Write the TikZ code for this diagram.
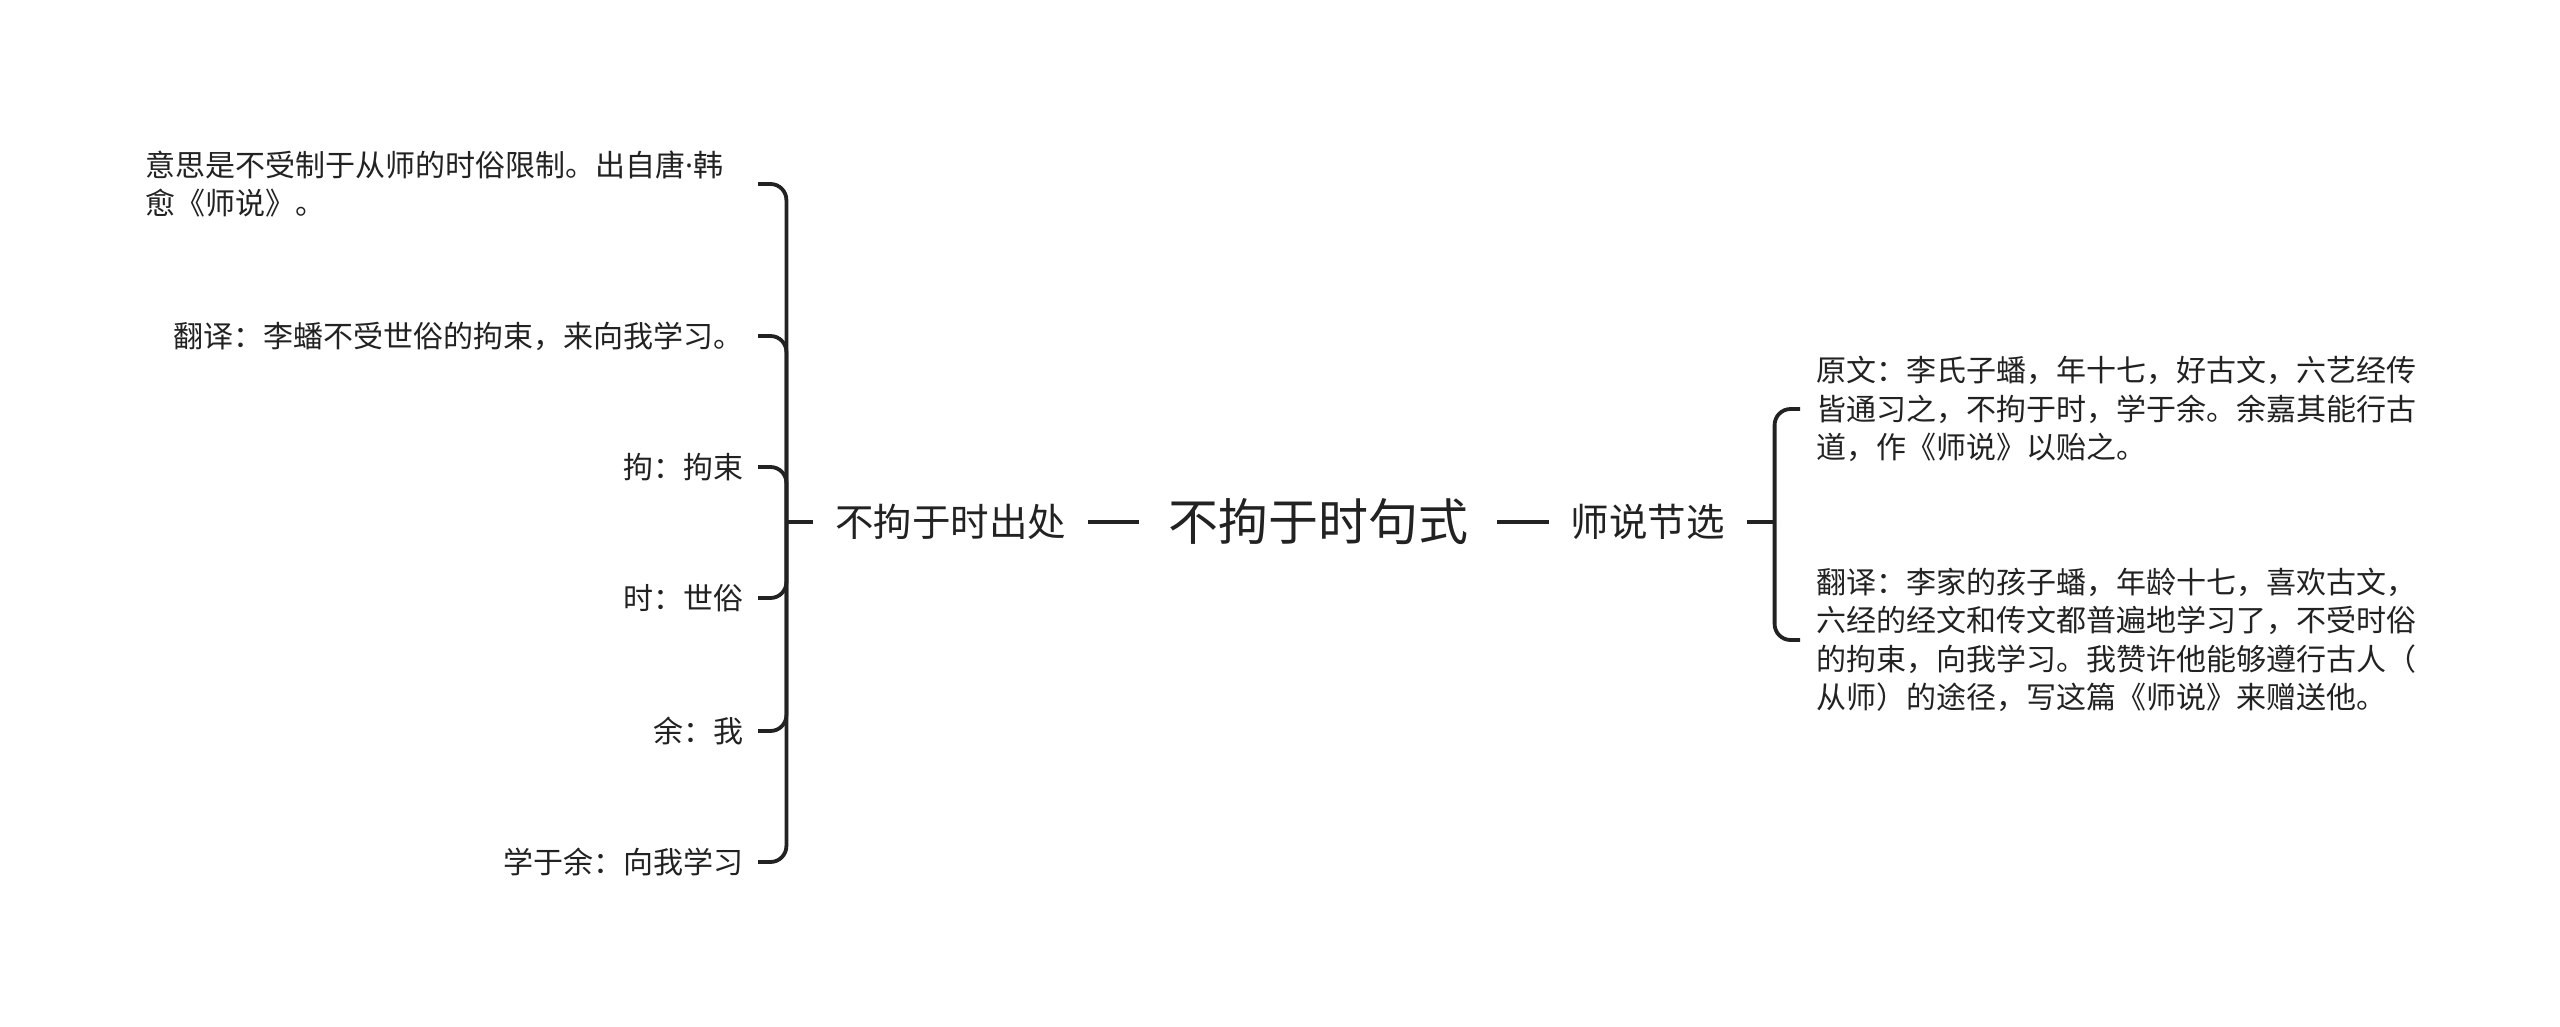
\documentclass[tikz,border=0pt]{standalone}
\usepackage{fontspec}
\newfontfamily\cjk{Noto Sans CJK SC}
\newfontfamily\latinsans{Noto Sans}
\definecolor{ink}{HTML}{222222}
\begin{document}
\begin{tikzpicture}[x=1pt,y=-1pt,
  root/.style={font={\cjk\fontsize{50}{60}\selectfont}, text=ink, inner xsep=29pt, inner ysep=4pt},
  mid/.style={font={\cjk\fontsize{38.5}{46}\selectfont}, text=ink, inner xsep=21.5pt, inner ysep=4pt},
  leaf/.style={font={\cjk\fontsize{30}{38.5}\selectfont}, text=ink, inner xsep=14pt, inner ysep=2pt, align=left},
  link/.style={draw=ink, line width=3.8pt},
  branch/.style={draw=ink, line width=3.8pt, rounded corners=16pt}]
\useasboundingbox (0,0) rectangle (2560,1027);
\fill[white] (0,0) rectangle (2560,1027);

% root and level one
\node[root] (C) at (1318,522) {不拘于时句式};
\node[mid, anchor=east] (P1) at (C.west) [xshift=-51pt] {不拘于时出处};
\node[mid, anchor=west] (P2) at (C.east) [xshift=52pt] {师说节选};
\draw[link] (P1.east) -- (C.west);
\draw[link] (C.east) -- (P2.west);

% left leaves
\node[leaf, anchor=west] (L1) at (131,184) {意思是不受制于从师的时俗限制。出自唐{\latinsans·}韩\\愈《师说》。};
\node[leaf, anchor=east] (L2) at (758,336) {翻译：李蟠不受世俗的拘束，来向我学习。};
\node[leaf, anchor=east] (L3) at (758,467) {拘：拘束};
\node[leaf, anchor=east] (L4) at (758,598) {时：世俗};
\node[leaf, anchor=east] (L5) at (758,731) {余：我};
\node[leaf, anchor=east] (L6) at (758,862) {学于余：向我学习};

\coordinate (TL) at ([xshift=-27pt]P1.west);
\draw[link] (P1.west) -- (TL);
\foreach \n in {L2,L3,L4,L5,L6}{
  \draw[branch] (TL) |- (\n.east);
}
\coordinate (L1end) at (758,184);
\draw[branch] (TL) |- (L1end);

% right leaves
\node[leaf, anchor=west] (R1) at (1802,409) {原文：李氏子蟠，年十七，好古文，六艺经传\\皆通习之，不拘于时，学于余。余嘉其能行古\\道，作《师说》以贻之。};
\node[leaf, anchor=west] (R2) at (1802,640) {翻译：李家的孩子蟠，年龄十七，喜欢古文，\\六经的经文和传文都普遍地学习了，不受时俗\\的拘束，向我学习。我赞许他能够遵行古人（\\从师）的途径，写这篇《师说》来赠送他。};

\coordinate (TR) at ([xshift=28pt]P2.east);
\draw[link] (P2.east) -- (TR);
\foreach \n in {R1,R2}{
  \draw[branch] (TR) |- ([xshift=-2pt]\n.west);
}
\end{tikzpicture}
\end{document}
